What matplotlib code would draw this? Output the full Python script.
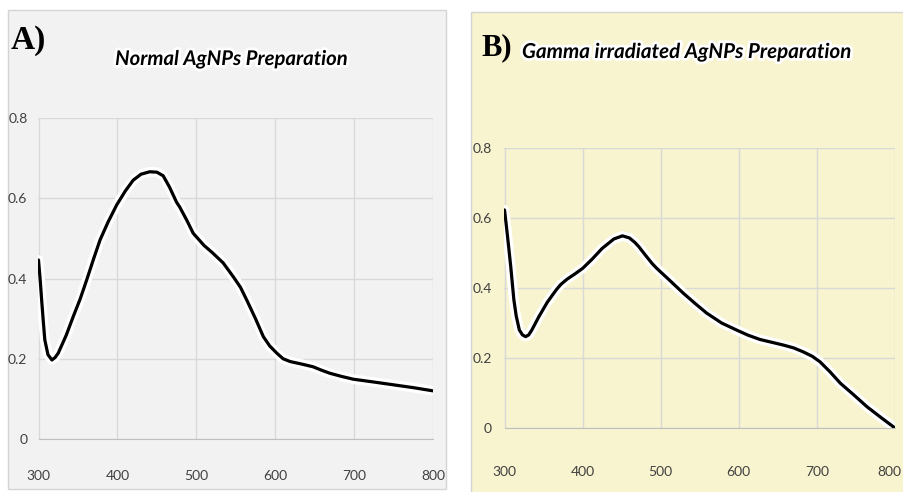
import matplotlib
matplotlib.use("Agg")
import matplotlib.pyplot as plt
import matplotlib.patheffects as pe
import matplotlib.transforms as mtransforms
from matplotlib.patches import Rectangle

# wavelength (nm) / absorbance
wl_normal = [300, 302, 304, 306, 308, 312, 317, 321, 325, 335, 344, 353, 361, 370,
             378, 388, 399, 410, 420, 430, 441, 450, 458, 466, 475, 479, 488, 496,
             500, 510, 520, 534, 547, 556, 564, 575, 585, 593, 602, 610, 619, 633,
             648, 658, 669, 684, 699, 725, 750, 775, 800]
abs_normal = [0.446, 0.4, 0.346, 0.295, 0.247, 0.21, 0.197, 0.203, 0.214, 0.258,
              0.305, 0.35, 0.396, 0.45, 0.496, 0.54, 0.583, 0.618, 0.645, 0.66,
              0.666, 0.665, 0.656, 0.628, 0.59, 0.578, 0.545, 0.513, 0.504, 0.482,
              0.465, 0.439, 0.404, 0.378, 0.346, 0.3, 0.255, 0.232, 0.214, 0.2,
              0.193, 0.187, 0.18, 0.172, 0.164, 0.156, 0.149, 0.142, 0.135, 0.128,
              0.12]

wl_gamma = [300, 302, 304, 306, 308, 312, 315, 319, 323, 327, 331, 335, 344, 355,
            366, 372, 380, 390, 400, 412, 425, 440, 451, 460, 467, 472, 480, 489,
            495, 510, 529, 545, 559, 578, 597, 612, 627, 642, 657, 670, 682, 694,
            704, 717, 730, 747, 764, 782, 800]
abs_gamma = [0.623, 0.585, 0.545, 0.503, 0.461, 0.366, 0.32, 0.28, 0.266, 0.261,
             0.266, 0.28, 0.318, 0.36, 0.394, 0.41, 0.425, 0.44, 0.456, 0.482,
             0.513, 0.54, 0.549, 0.543, 0.53, 0.518, 0.495, 0.47, 0.456, 0.425,
             0.385, 0.354, 0.328, 0.3, 0.28, 0.265, 0.253, 0.245, 0.237, 0.229,
             0.218, 0.205, 0.189, 0.16, 0.128, 0.095, 0.061, 0.03, 0.0]

x_ticks = [300, 400, 500, 600, 700, 800]
y_ticks = [0, 0.2, 0.4, 0.6, 0.8]
y_labels = ["0", "0.2", "0.4", "0.6", "0.8"]

W, H = 904, 492
fig = plt.figure(figsize=(W / 100, H / 100), dpi=100)


def box(x0, y0, x1, y1):
    # pixel box (top-left origin) -> figure fractions
    return [x0 / W, 1 - y1 / H, (x1 - x0) / W, (y1 - y0) / H]


def panel(x0, y0, x1, y1, color):
    l, b, w, h = box(x0, y0, x1, y1)
    fig.add_artist(Rectangle((l, b), w, h, transform=fig.transFigure,
                             facecolor=color, edgecolor="#d4d4d4", lw=1, zorder=0))


panel(8, 10, 446, 489, "#f2f2f2")
panel(471, 12, 905, 493, "#f8f4cf")

tick_font = ["Liberation Sans Narrow", "Lato", "DejaVu Sans"]
glow = [pe.withStroke(linewidth=7, foreground="white")]


def spectrum(rect, x, y, xpad, ypad):
    ax = fig.add_axes(box(*rect))
    ax.patch.set_visible(False)
    ax.plot(x, y, color="black", lw=2.3, solid_capstyle="round",
            solid_joinstyle="round", path_effects=glow, zorder=3)
    ax.set_xlim(300, 800)
    ax.set_ylim(0, 0.8)
    ax.set_xticks(x_ticks)
    ax.set_yticks(y_ticks)
    ax.set_yticklabels(y_labels)
    ax.grid(True, color="#d9d9d9", lw=1)
    ax.set_axisbelow(True)
    for s in ["top", "right", "left"]:
        ax.spines[s].set_visible(False)
    ax.spines["bottom"].set_color("#bfbfbf")
    ax.tick_params(length=0, labelsize=10, labelcolor="#404040")
    ax.tick_params(axis="x", pad=xpad)
    ax.tick_params(axis="y", pad=ypad)
    for t in ax.get_xticklabels() + ax.get_yticklabels():
        t.set_family(tick_font)
    return ax


spectrum((38.5, 118, 433, 439), wl_normal, abs_normal, 22, 8)
ax_b = spectrum((504.5, 148, 895, 428), wl_gamma, abs_gamma, 27, 9)

# the last x label of panel B sits against the picture edge; nudge it in a little
fig.canvas.draw()
last = ax_b.get_xticklabels()[-1]
last.set_transform(last.get_transform() +
                   mtransforms.ScaledTranslation(-6 / 100, 0, fig.dpi_scale_trans))

title_glow = [pe.withStroke(linewidth=4, foreground="white")]
fig.text(231 / W, 1 - 59 / H, "Normal AgNPs Preparation", ha="center", va="center",
         fontsize=14.6, fontweight="bold", style="italic",
         family=["Lato", "DejaVu Sans"], path_effects=title_glow)
fig.text(686 / W, 1 - 52 / H, "Gamma irradiated AgNPs Preparation", ha="center",
         va="center", fontsize=14.8, fontweight="bold", style="italic",
         family=["Lato", "DejaVu Sans"], path_effects=title_glow)
fig.text(28 / W, 1 - 41 / H, "A)", ha="center", va="center", fontsize=24,
         fontweight="bold", family=["Liberation Serif", "DejaVu Serif"])
fig.text(497 / W, 1 - 48 / H, "B)", ha="center", va="center", fontsize=22,
         fontweight="bold", family=["Liberation Serif", "DejaVu Serif"])

fig.savefig("out.png", dpi=100, facecolor="white")
